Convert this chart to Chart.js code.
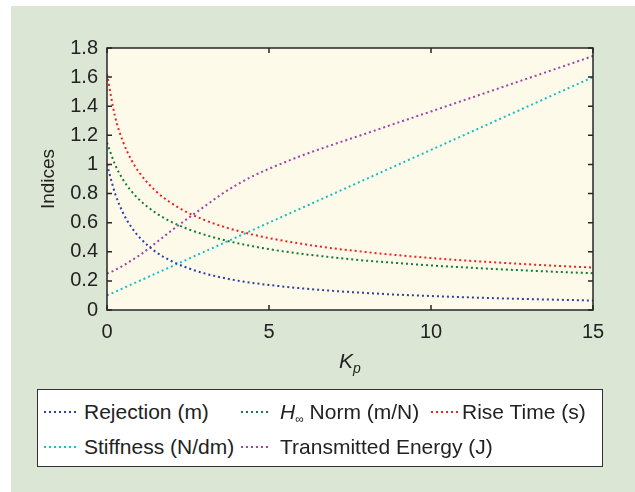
<!DOCTYPE html>
<html>
<head>
<meta charset="utf-8">
<script src="https://cdn.jsdelivr.net/npm/chart.js@4.4.1/dist/chart.umd.min.js"></script>
<style>
  body { margin: 0; background: #fff; font-family: "Liberation Sans", Arial, sans-serif; color: #222; }
  #panel { position: absolute; left: 11px; top: 6px; width: 624px; height: 486px; background: #dce6d4; }
  #plot { position: absolute; left: 0; top: 0; }
  #xtitle { position: absolute; left: 320px; top: 348px; width: 60px; text-align: center; font-size: 21px; line-height: 26px; font-style: italic; }
  #xtitle sub { font-size: 14px; vertical-align: -5px; line-height: 0; }
  #legend { position: absolute; left: 37px; top: 389px; width: 566px; height: 78px; box-sizing: border-box; border: 1px solid #333; background: #fff; }
  .item { position: absolute; font-size: 21px; line-height: 26px; white-space: nowrap; }
  .item sub { font-size: 12px; vertical-align: -4px; line-height: 0; }
  .sample { position: absolute; }
</style>
</head>
<body>
<div id="panel"></div>
<canvas id="plot" width="635" height="385"></canvas>
<div id="xtitle">K<sub>p</sub></div>
<div id="legend"></div>
<script>
// gain values along the x axis
const kValues = [0, 0.25, 0.5, 0.75, 1, 1.5, 2, 2.5, 3, 3.5, 4, 4.5, 5, 6, 7, 8, 9, 10, 11, 12, 13, 14, 15];

const rejection = [1.0, 0.80, 0.665, 0.57, 0.5, 0.40, 0.335, 0.288, 0.252, 0.225, 0.203, 0.186, 0.172, 0.149, 0.131, 0.117, 0.105, 0.096, 0.088, 0.081, 0.075, 0.07, 0.065];
const hinfNorm = [1.15, 0.998, 0.894, 0.817, 0.757, 0.668, 0.604, 0.556, 0.518, 0.487, 0.46, 0.438, 0.418, 0.386, 0.361, 0.339, 0.322, 0.306, 0.293, 0.281, 0.271, 0.261, 0.253];
const riseTime = [1.62, 1.328, 1.153, 1.032, 0.943, 0.818, 0.732, 0.668, 0.619, 0.579, 0.546, 0.518, 0.494, 0.455, 0.423, 0.398, 0.376, 0.357, 0.341, 0.327, 0.314, 0.302, 0.292];
const stiffness = [0.1, 0.125, 0.15, 0.175, 0.2, 0.25, 0.3, 0.35, 0.4, 0.45, 0.5, 0.55, 0.6, 0.7, 0.8, 0.9, 1.0, 1.1, 1.2, 1.3, 1.4, 1.5, 1.6];
const transmittedEnergy = [0.25, 0.275, 0.305, 0.34, 0.375, 0.46, 0.547, 0.63, 0.71, 0.79, 0.86, 0.92, 0.97, 1.06, 1.138, 1.213, 1.289, 1.364, 1.44, 1.516, 1.592, 1.668, 1.745];

const xTicks = [0, 5, 10, 15];
const yTicks = [0, 0.2, 0.4, 0.6, 0.8, 1, 1.2, 1.4, 1.6, 1.8];
const yTickLabels = ['0', '0.2', '0.4', '0.6', '0.8', '1', '1.2', '1.4', '1.6', '1.8'];

const seriesNames = ['Rejection (m)', '<i>H</i><sub>\u221e</sub> Norm (m/N)', 'Rise Time (s)', 'Stiffness (N/dm)', 'Transmitted Energy (J)'];
const seriesValues = [rejection, hinfNorm, riseTime, stiffness, transmittedEnergy];
const seriesColors = ['rgb(45,65,170)', 'rgb(15,125,55)', 'rgb(240,35,35)', 'rgb(25,190,200)', 'rgb(165,65,170)'];

const datasets = seriesValues.map((vals, i) => ({
  label: seriesNames[i].replace(/<[^>]+>/g, ''),
  data: vals.map((v, j) => ({ x: kValues[j], y: v })),
  borderColor: seriesColors[i],
  borderWidth: 2,
  borderDash: [2, 3],
  pointRadius: 0,
  fill: false,
  cubicInterpolationMode: 'monotone'
}));

const boxPlugin = {
  id: 'box',
  beforeDraw(chart) {
    const { ctx, chartArea: a } = chart;
    ctx.save();
    ctx.fillStyle = '#fdfae9';
    ctx.fillRect(a.left, a.top, a.right - a.left, a.bottom - a.top);
    ctx.restore();
  },
  afterDraw(chart) {
    const { ctx, chartArea: a, scales: { x, y } } = chart;
    ctx.save();
    ctx.strokeStyle = '#262626';
    ctx.lineWidth = 1.5;
    ctx.strokeRect(a.left, a.top, a.right - a.left, a.bottom - a.top);
    ctx.beginPath();
    x.ticks.forEach(t => {
      const px = x.getPixelForValue(t.value);
      ctx.moveTo(px, a.bottom); ctx.lineTo(px, a.bottom - 5);
      ctx.moveTo(px, a.top); ctx.lineTo(px, a.top + 5);
    });
    y.ticks.forEach(t => {
      const py = y.getPixelForValue(t.value);
      ctx.moveTo(a.left, py); ctx.lineTo(a.left + 5, py);
      ctx.moveTo(a.right, py); ctx.lineTo(a.right - 5, py);
    });
    ctx.stroke();
    ctx.restore();
  }
};

const tickFont = { family: '"Liberation Sans", Arial, sans-serif', size: 20 };

//eslint-disable-next-line
const chart = new Chart(document.getElementById('plot'), {
  type: 'line',
  data: { datasets },
  options: {
    responsive: false,
    animation: false,
    devicePixelRatio: 1,
    layout: { padding: { top: 48, right: 42, left: 0, bottom: 0 } },
    plugins: { legend: { display: false }, tooltip: { enabled: false } },
    scales: {
      x: {
        type: 'linear',
        min: 0,
        max: 15,
        afterBuildTicks: s => { s.ticks = xTicks.map(v => ({ value: v })); },
        afterFit: s => { s.height = 75; },
        ticks: { font: tickFont, color: '#222', padding: 10, callback: v => String(v) },
        grid: { display: false, drawTicks: false },
        border: { display: false }
      },
      y: {
        min: 0,
        max: 1.8,
        afterBuildTicks: s => { s.ticks = yTicks.map(v => ({ value: v })); },
        afterFit: s => { s.width = 107; },
        ticks: { font: tickFont, color: '#222', padding: 9, callback: (v, i) => yTickLabels[i] },
        grid: { display: false, drawTicks: false },
        border: { display: false },
        title: {
          display: true,
          text: 'Indices',
          color: '#222',
          font: { family: '"Liberation Sans", Arial, sans-serif', size: 19 },
          padding: { top: 37, bottom: 0 }
        }
      }
    }
  },
  plugins: [boxPlugin]
});

// legend laid out in three columns like the original
const legendCols = [[6, 46, 32], [203, 242, 30], [393, 424, 27], [6, 46, 32], [203, 242, 30]];
const legendRows = [22, 22, 22, 57, 57];
const legend = document.getElementById('legend');
seriesNames.forEach((name, i) => {
  const [sx, tx, w] = legendCols[i];
  const cy = legendRows[i];
  const svg = document.createElementNS('http://www.w3.org/2000/svg', 'svg');
  svg.setAttribute('class', 'sample');
  svg.setAttribute('width', String(w));
  svg.setAttribute('height', '4');
  svg.style.left = sx + 'px';
  svg.style.top = (cy - 2) + 'px';
  svg.innerHTML = '<line x1="0" y1="2" x2="' + w + '" y2="2" stroke="' + seriesColors[i] + '" stroke-width="2" stroke-dasharray="2 3"/>';
  legend.appendChild(svg);
  const span = document.createElement('span');
  span.className = 'item';
  span.style.left = tx + 'px';
  span.style.top = (cy - 13) + 'px';
  span.innerHTML = name;
  legend.appendChild(span);
});
</script>
</body>
</html>
